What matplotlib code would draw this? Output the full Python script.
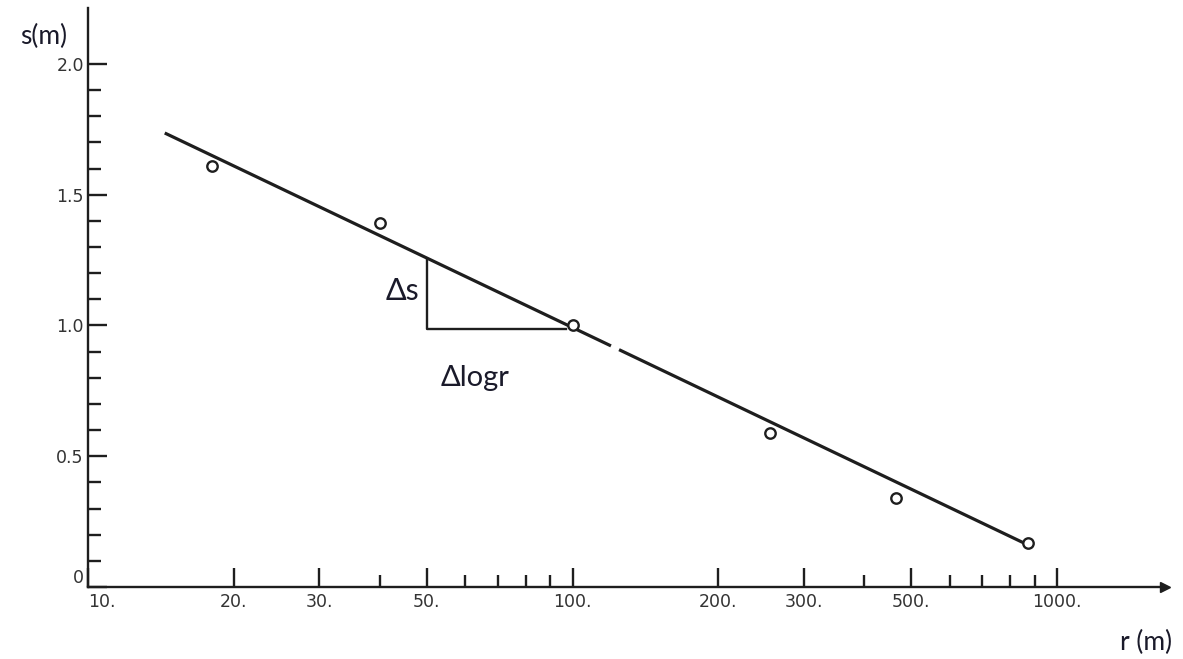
import numpy as np
import matplotlib
matplotlib.use('Agg')
import matplotlib.pyplot as plt
from matplotlib.ticker import FixedLocator, NullFormatter

# measured points
r_obs = [18, 40, 100, 255, 465, 870]
s_obs = [1.61, 1.39, 1.0, 0.59, 0.34, 0.17]

# fitted straight line (drawn in two pieces, the scan has a small gap)
fit1_r = [14.4, 120]
fit1_s = [1.736, 0.922]
fit2_r = [124.7, 870]
fit2_s = [0.9075, 0.161]

# slope triangle
tri_r = [97, 50, 50]
tri_s = [0.985, 0.985, 1.25]

x_major = [10, 20, 30, 50, 100, 200, 300, 500, 1000]
x_labels = ['10.', '20.', '30.', '50.', '100.', '200.', '300.', '500.', '1000.']
x_minor = [40, 60, 70, 80, 90, 400, 600, 700, 800, 900]
y_major = [0, 0.5, 1.0, 1.5, 2.0]
y_labels = ['0', '0.5', '1.0', '1.5', '2.0']
y_minor = [0.1, 0.2, 0.3, 0.4, 0.6, 0.7, 0.8, 0.9, 1.1, 1.2, 1.3, 1.4, 1.6, 1.7, 1.8, 1.9]

ink = '#1e1e1e'

fig = plt.figure(figsize=(11.83, 6.59), dpi=100)
ax = fig.add_axes([88/1183, 72/659, 1077/1183, 579/659])
ax.set_xscale('log')
ax.set_xlim(10, 1669)
ax.set_ylim(0, 2.214)

for sp in ['top', 'right']:
    ax.spines[sp].set_visible(False)
for sp in ['left', 'bottom']:
    ax.spines[sp].set_linewidth(1.7)
    ax.spines[sp].set_color(ink)

# arrow heads
ax.plot(1, 0, '>', color=ink, markersize=7, transform=ax.get_yaxis_transform(), clip_on=False)
ax.plot(0, 1, '^', color=ink, markersize=7, transform=ax.get_xaxis_transform(), clip_on=False)

ax.xaxis.set_major_locator(FixedLocator(x_major))
ax.xaxis.set_minor_locator(FixedLocator(x_minor))
ax.set_xticklabels(x_labels)
ax.xaxis.set_minor_formatter(NullFormatter())
ax.yaxis.set_major_locator(FixedLocator(y_major))
ax.yaxis.set_minor_locator(FixedLocator(y_minor))
ax.set_yticklabels(y_labels)

ax.tick_params(axis='both', which='major', direction='in', length=14, width=1.7,
               color=ink, labelsize=12.5, labelcolor='#333333')
ax.tick_params(axis='both', which='minor', direction='in', length=9, width=1.7, color=ink)
ax.tick_params(axis='x', which='major', pad=4)
ax.tick_params(axis='y', which='major', pad=3)
ax.get_xticklabels()[0].set_horizontalalignment('left')
ax.get_yticklabels()[0].set_verticalalignment('bottom')

ax.plot(fit1_r, fit1_s, color=ink, linewidth=2.3, solid_capstyle='butt')
ax.plot(fit2_r, fit2_s, color=ink, linewidth=2.3, solid_capstyle='butt')
ax.plot(tri_r, tri_s, color=ink, linewidth=1.7)
ax.plot(r_obs, s_obs, 'o', markersize=7.5, markerfacecolor='white',
        markeredgecolor=ink, markeredgewidth=1.7, zorder=5)

ax.text(44.5, 1.13, 'Δs', fontsize=22, family='Lato', color='#1a1a2a', ha='center', va='center')
ax.text(63, 0.80, 'Δlogr', fontsize=21, family='Lato', color='#1a1a2a', ha='center', va='center')

fig.text(44/1183, 1 - 36/659, 's(m)', fontsize=19, family='Lato', color='#1a1a2a',
         ha='center', va='center')
fig.text(1146/1183, 1 - 642/659, 'r (m)', fontsize=19, family='Lato', color='#1a1a2a',
         ha='center', va='center')

fig.savefig('out.png', dpi=100)
